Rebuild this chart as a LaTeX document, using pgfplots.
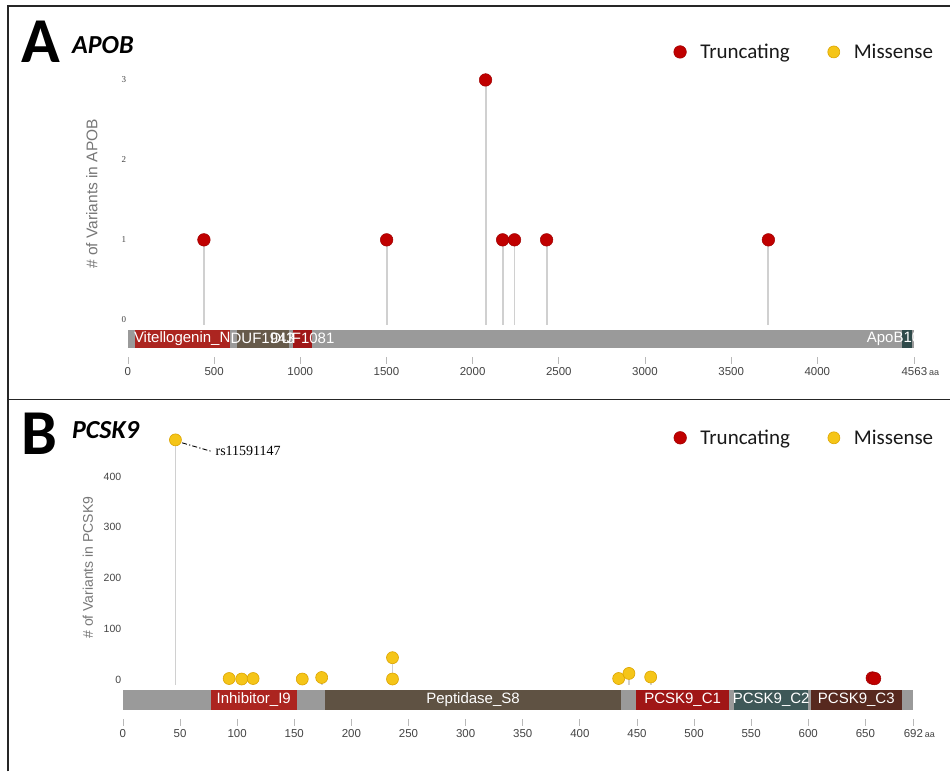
\documentclass[border=0pt]{standalone}
\usepackage{pgfplots}
\pgfplotsset{compat=1.18}
\usepackage{pgfplotstable}
\usepackage{fontspec}
\setmainfont{Liberation Sans}
\newfontfamily\carlito{Carlito}
\newfontfamily\serifface{Liberation Serif}

\definecolor{truncred}{HTML}{C00000}
\definecolor{truncedge}{HTML}{A00000}
\definecolor{misfill}{HTML}{F5C518}
\definecolor{misedge}{HTML}{DCA400}
\definecolor{stemgray}{HTML}{D0D0D0}
\definecolor{bargray}{HTML}{9A9A9A}
\definecolor{domred}{HTML}{AC2520}
\definecolor{domdarkred}{HTML}{A01616}
\definecolor{dombrown}{HTML}{665A4A}
\definecolor{dompept}{HTML}{5F5243}
\definecolor{domteal}{HTML}{2F4A4A}
\definecolor{domslate}{HTML}{3E5858}
\definecolor{domchoc}{HTML}{57291F}
\definecolor{ticktext}{HTML}{444444}
\definecolor{labeltext}{HTML}{777777}

% truncating variants in APOB (position, count)
\pgfplotstableread{
x y
441 1
1501 1
2075 3
2174 1
2243 1
2429 1
3716 1
}\apobtrunc

% missense variants in PCSK9 (position, count)
\pgfplotstableread{
x y
46 472
93 2
104 1
114 2
157 1
174 4
236 43
236 1
434 2
443 12
462 5
}\pcskmis

% truncating variants in PCSK9 (position, count)
\pgfplotstableread{
x y
656 3
658 2
}\pcsktrunc

% protein domain: start, end, bottom, top, colour, centre x, centre y, name
\newcommand{\domain}[8]{%
  \addplot[fill=#5, draw=none, forget plot] coordinates {(#1,#3) (#2,#3) (#2,#4) (#1,#4)} -- cycle;
  \node[text=white, inner sep=0pt, font=\fontsize{15}{18}\selectfont] at (axis cs:#6,#7) {#8};
}

\pgfplotsset{
  lollipop/.style={
    scale only axis,
    axis x line*=bottom, axis y line*=left,
    axis line style={draw=none},
    xtick align=outside,
    major tick length=7pt,
    xtick style={draw=gray!55, line width=0.8pt},
    ytick style={draw=none},
    /pgf/number format/assume math mode=true,
    xticklabel style={font=\fontsize{11.5}{13}\selectfont, text=ticktext},
    yticklabel style={font=\fontsize{10.5}{12}\selectfont, text=ticktext, inner sep=1.5pt},
    legend style={draw=none, fill=none, legend columns=2,
      font=\carlito\fontsize{21}{24}\selectfont, text=black!90,
      /tikz/every odd column/.append style={column sep=12pt},
      /tikz/every even column/.append style={column sep=36pt}},
    legend cell align=left,
  },
  stems/.style={only marks, mark=none, forget plot,
    error bars/.cd, y dir=minus, y explicit,
    error mark=none,
    error bar style={draw=stemgray, line width=1.9pt}},
  truncmark/.style={only marks, mark=*, mark size=6.3pt,
    mark options={fill=truncred, draw=truncedge, line width=0.5pt}},
  mismark/.style={only marks, mark=*, mark size=6pt,
    mark options={fill=misfill, draw=misedge, line width=0.6pt}},
}

\begin{document}
\begin{tikzpicture}
\fill[white] (0pt,0pt) rectangle (951pt,-772pt);
% panel frames
\draw[line width=1.3pt, black!85] (8pt,-772pt) -- (8pt,-6pt) -- (951pt,-6pt);
\draw[line width=1.3pt, black!85] (8pt,-400pt) -- (951pt,-400pt);

% panel titles
\node[anchor=west, inner sep=0pt, font=\carlito\bfseries\fontsize{64}{64}\selectfont] at (21pt,-42pt) {A};
\node[anchor=west, inner sep=0pt, font=\carlito\bfseries\itshape\fontsize{26}{28}\selectfont] at (72pt,-45pt) {APOB};
\node[anchor=west, inner sep=0pt, font=\carlito\bfseries\fontsize{64}{64}\selectfont] at (21pt,-434pt) {B};
\node[anchor=west, inner sep=0pt, font=\carlito\bfseries\itshape\fontsize{26}{28}\selectfont] at (72pt,-430pt) {PCSK9};

% y-axis titles
\node[rotate=90, text=labeltext, font=\fontsize{15.5}{18}\selectfont] at (92pt,-194pt) {\# of Variants in APOB};
\node[rotate=90, text=labeltext, font=\fontsize{14}{17}\selectfont] at (88pt,-568pt) {\# of Variants in PCSK9};

% ---------------- APOB ----------------
\begin{axis}[lollipop,
  at={(128pt,-357pt)}, anchor=south west,
  width=787pt, height=297pt,
  xmin=0, xmax=4563, ymin=-0.4625, ymax=3.25,
  xtick={0,500,1000,1500,2000,2500,3000,3500,4000,4563},
  xticklabels={0,500,1000,1500,2000,2500,3000,3500,4000,{4563\rlap{\,\fontsize{9}{10}\selectfont aa}}},
  ytick={0,1,2,3},
  yticklabel style={font=\serifface\fontsize{9}{11}\selectfont},
  legend style={at={(rel axis cs:0.690,1.027)}, anchor=west},
]
\domain{0}{4563}{-0.125}{-0.35}{bargray}{2281}{-0.2375}{}
\domain{40}{590}{-0.125}{-0.35}{domred}{315}{-0.2375}{Vitellogenin\_N}
\domain{632}{933}{-0.125}{-0.35}{dombrown}{782}{-0.2375}{DUF1943}
\domain{957}{1067}{-0.125}{-0.35}{domdarkred}{1012}{-0.2375}{DUF1081}
\domain{4493}{4551}{-0.125}{-0.35}{domteal}{4522}{-0.2375}{ApoB100\_C}
\addplot[stems] table[x=x, y=y, y error expr=\thisrow{y}+0.06] {\apobtrunc};
\addplot[truncmark] table[x=x, y=y] {\apobtrunc};
\addlegendentry{Truncating}
\addlegendimage{mismark}
\addlegendentry{Missense}
\end{axis}

% ---------------- PCSK9 ----------------
\begin{axis}[lollipop,
  at={(123pt,-719pt)}, anchor=south west,
  width=791pt, height=289pt,
  xmin=0, xmax=692, ymin=-76.8, ymax=492,
  xtick={0,50,100,150,200,250,300,350,400,450,500,550,600,650,692},
  xticklabels={0,50,100,150,200,250,300,350,400,450,500,550,600,650,{692\rlap{\,\fontsize{9}{10}\selectfont aa}}},
  ytick={0,100,200,300,400},
  legend style={at={(rel axis cs:0.693,0.972)}, anchor=west},
]
\domain{0}{692}{-19.7}{-59.1}{bargray}{346}{-39.4}{}
\domain{77}{152}{-19.7}{-59.1}{domred}{114.5}{-39.4}{Inhibitor\_I9}
\domain{177}{436}{-19.7}{-59.1}{dompept}{306.5}{-39.4}{Peptidase\_S8}
\domain{449}{531}{-19.7}{-59.1}{domdarkred}{490}{-39.4}{PCSK9\_C1}
\domain{535}{600}{-19.7}{-59.1}{domslate}{567.5}{-39.4}{PCSK9\_C2}
\domain{602}{682}{-19.7}{-59.1}{domchoc}{642}{-39.4}{PCSK9\_C3}
\addplot[stems] table[x=x, y=y, y error expr=\thisrow{y}+10] {\pcskmis};
\addplot[stems] table[x=x, y=y, y error expr=\thisrow{y}+10] {\pcsktrunc};
\addplot[truncmark] table[x=x, y=y] {\pcsktrunc};
\addlegendentry{Truncating}
\addplot[mismark] table[x=x, y=y] {\pcskmis};
\addlegendentry{Missense}
% label for the common variant
\draw[line width=0.9pt, dash pattern=on 1.2pt off 2.2pt on 5pt off 2.2pt] (axis cs:49,468) -- (axis cs:78,449);
\node[anchor=west, inner sep=0pt, font=\serifface\fontsize{14}{16}\selectfont] at (axis cs:81,451) {rs11591147};
\end{axis}
\end{tikzpicture}
\end{document}
